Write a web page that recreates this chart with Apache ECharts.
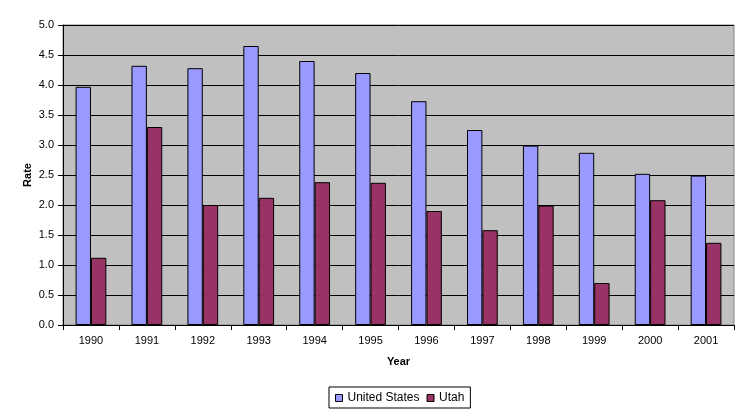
<!DOCTYPE html>
<html>
<head>
<meta charset="utf-8">
<script src="https://cdn.jsdelivr.net/npm/echarts@6/dist/echarts.min.js"></script>
<style>
html,body{margin:0;padding:0;background:#fff;}
#c{width:749px;height:417px;}
</style>
</head>
<body>
<div id="c"></div>
<script>
const years = ['1990','1991','1992','1993','1994','1995','1996','1997','1998','1999','2000','2001'];
const unitedStates = [3.97, 4.32, 4.28, 4.65, 4.40, 4.20, 3.73, 3.25, 2.99, 2.87, 2.52, 2.49];
const utah = [1.12, 3.30, 2.00, 2.12, 2.38, 2.37, 1.90, 1.58, 1.99, 0.70, 2.08, 1.37];
const yTicks = ['0.0','0.5','1.0','1.5','2.0','2.5','3.0','3.5','4.0','4.5','5.0'];

const chart = echarts.init(document.getElementById('c'));
const font = 'Liberation Sans, Arial, sans-serif';
chart.setOption({
  animation: false,
  backgroundColor: '#ffffff',
  textStyle: { fontFamily: font },
  grid: {
    left: 63, right: 15, top: 25, bottom: 92,
    show: true, backgroundColor: '#C0C0C0', borderColor: '#808080', borderWidth: 1
  },
  legend: {
    top: 387, left: 329,
    data: ['United States', 'Utah'],
    icon: 'rect', itemWidth: 7, itemHeight: 7, itemGap: 7,
    borderColor: '#000', borderWidth: 1, padding: [5, 6, 4, 6],
    textStyle: { fontFamily: font, fontSize: 12, color: '#000', padding: [0, 0, 0, 0] },
    itemStyle: { borderColor: '#000', borderWidth: 1 }
  },
  xAxis: {
    type: 'category', data: years,
    name: 'Year', nameLocation: 'middle', nameGap: 31, nameMoveOverlap: false,
    nameTextStyle: { fontFamily: font, fontSize: 11, fontWeight: 'bold', color: '#000' },
    axisLine: { lineStyle: { color: '#000', width: 1 } },
    axisTick: { show: true, length: 5, lineStyle: { color: '#000' } },
    axisLabel: { fontFamily: font, fontSize: 11, color: '#000', margin: 10 }
  },
  yAxis: {
    type: 'value', min: 0, max: 5, interval: 0.5,
    name: 'Rate', nameLocation: 'middle', nameGap: 30, nameMoveOverlap: false,
    nameTextStyle: { fontFamily: font, fontSize: 11, fontWeight: 'bold', color: '#000' },
    axisLine: { show: true, lineStyle: { color: '#000', width: 1 } },
    axisTick: { show: true, length: 5, lineStyle: { color: '#000' } },
    axisLabel: { fontFamily: font, fontSize: 11, color: '#000', margin: 9,
      formatter: function (v) { return yTicks[Math.round(v / 0.5)]; } },
    splitLine: { show: true, lineStyle: { color: '#000', width: 1 } }
  },
  series: [
    { name: 'United States', type: 'bar', data: unitedStates, barGap: '0%', barCategoryGap: '45%',
      itemStyle: { color: '#9999FF', borderColor: '#000', borderWidth: 1 } },
    { name: 'Utah', type: 'bar', data: utah, barGap: '0%', barCategoryGap: '45%',
      itemStyle: { color: '#993366', borderColor: '#000', borderWidth: 1 } }
  ]
});
</script>
</body>
</html>
